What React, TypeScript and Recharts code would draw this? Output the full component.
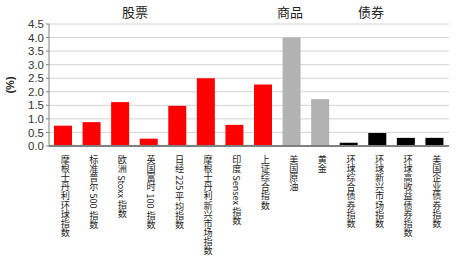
import { Bar, BarChart, CartesianGrid, Cell, XAxis, YAxis } from "recharts";

const categories = [
  "摩根士丹利环球指数",
  "标准普尔 500 指数",
  "欧洲 Stoxx 指数",
  "英国富时 100 指数",
  "日经 225 平均指数",
  "摩根士丹利新兴市场指数",
  "印度 Sensex 指数",
  "上证综合指数",
  "美国原油",
  "黄金",
  "环球综合债券指数",
  "环球新兴市场指数",
  "环球高收益债券指数",
  "美国企业债券指数",
];
const values = [0.75, 0.88, 1.62, 0.27, 1.48, 2.5, 0.78, 2.27, 4.0, 1.73, 0.12, 0.48, 0.3, 0.3];
const groups = ["股票", "股票", "股票", "股票", "股票", "股票", "股票", "股票", "商品", "商品", "债券", "债券", "债券", "债券"];
const yTicks = [0, 0.5, 1, 1.5, 2, 2.5, 3, 3.5, 4, 4.5];

const groupColor: Record<string, string> = {
  股票: "#ff0000",
  商品: "#b2b2b2",
  债券: "#000000",
};

const data = categories.map((name, i) => ({ name, value: values[i], group: groups[i] }));

const FONT = "'Liberation Sans', 'Noto Sans CJK SC', sans-serif";
const CJK = "'Noto Sans CJK SC', 'Liberation Sans', sans-serif";

function VerticalTick(props: any) {
  const { x, y, payload } = props;
  return (
    <text
      x={x + 2}
      y={y + 1}
      fill="#222"
      fontSize={9.1}
      fontFamily={CJK}
      textAnchor="start"
      style={{ writingMode: "vertical-rl" }}
    >
      {payload.value}
    </text>
  );
}

const groupLabels = [
  { text: "股票", left: 135 },
  { text: "商品", left: 290 },
  { text: "债券", left: 371 },
];

export default function App() {
  return (
    <div style={{ position: "absolute", left: 0, top: 0, width: 462, height: 259, background: "#fff" }}>
      <BarChart
        width={462}
        height={259}
        data={data}
        margin={{ top: 24, right: 13, bottom: 0, left: 0 }}
        barSize={18}
      >
        <CartesianGrid vertical={false} stroke="#d4d4d4" />
        <XAxis
          dataKey="name"
          interval={0}
          height={113}
          tick={<VerticalTick />}
          tickLine={false}
          axisLine={{ stroke: "#808080", strokeWidth: 2 }}
        />
        <YAxis
          domain={[0, 4.5]}
          ticks={yTicks}
          width={49}
          tickFormatter={(v: number) => v.toFixed(1)}
          tick={{ fill: "#333", fontSize: 11.5, fontFamily: FONT }}
          tickLine={{ stroke: "#808080" }}
          tickSize={3}
          axisLine={{ stroke: "#808080" }}
          interval={0}
          label={{
            value: "(%)",
            angle: -90,
            position: "insideLeft",
            offset: 10,
            style: { fill: "#222", fontSize: 11, fontWeight: "bold", fontFamily: FONT, textAnchor: "middle" },
          }}
        />
        <Bar dataKey="value" isAnimationActive={false}>
          {data.map((d) => (
            <Cell key={d.name} fill={groupColor[d.group]} />
          ))}
        </Bar>
      </BarChart>
      {groupLabels.map((g) => (
        <div
          key={g.text}
          style={{
            position: "absolute",
            left: g.left,
            top: 4,
            transform: "translateX(-50%)",
            fontSize: 13,
            fontFamily: CJK,
            color: "#222",
            lineHeight: "16px",
          }}
        >
          {g.text}
        </div>
      ))}
    </div>
  );
}
